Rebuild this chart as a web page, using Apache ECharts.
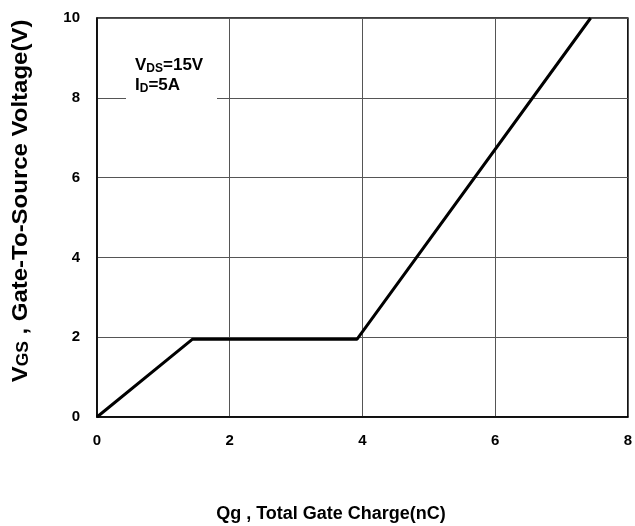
<!DOCTYPE html>
<html>
<head>
<meta charset="utf-8">
<script src="https://cdn.jsdelivr.net/npm/echarts@6/dist/echarts.min.js"></script>
<style>
  html, body { margin: 0; padding: 0; background: #fff; }
  #chart { width: 635px; height: 526px; }
</style>
</head>
<body>
<div id="chart"></div>
<script>
var qg = [0, 1.44, 3.92, 7.44];
var vgs = [0, 1.95, 1.95, 10];
var xTicks = [0, 2, 4, 6, 8];
var yTicks = [0, 2, 4, 6, 8, 10];

var points = qg.map(function (q, i) { return [q, vgs[i]]; });

var chart = echarts.init(document.getElementById('chart'));
var font = 'Liberation Sans, Arial, sans-serif';

var option = {
  backgroundColor: '#fff',
  animation: false,
  grid: {
    left: 97, right: 6, top: 18, bottom: 109,
    show: true, borderColor: '#000', borderWidth: 1.5
  },
  xAxis: {
    type: 'value', min: xTicks[0], max: xTicks[xTicks.length - 1], interval: 2,
    axisLine: { show: true, lineStyle: { color: '#000', width: 1.5 } },
    axisTick: { show: false },
    splitLine: { show: true, lineStyle: { color: '#555', width: 1 } },
    axisLabel: { color: '#000', fontWeight: 'bold', fontSize: 15, fontFamily: font, margin: 16 }
  },
  yAxis: {
    type: 'value', min: yTicks[0], max: yTicks[yTicks.length - 1], interval: 2,
    axisLine: { show: true, lineStyle: { color: '#000', width: 1.5 } },
    axisTick: { show: false },
    splitLine: { show: true, lineStyle: { color: '#555', width: 1 } },
    axisLabel: { color: '#000', fontWeight: 'bold', fontSize: 15, fontFamily: font, margin: 17 }
  },
  graphic: [
    {
      type: 'rect', left: 126, top: 55, z: 50,
      shape: { width: 91, height: 48 },
      style: { fill: '#fff' }
    },
    {
      type: 'text', left: 135, top: 56, z: 51,
      style: {
        text: '{b|V}{s|DS}{b|=15V}\n{b|I}{s|D}{b|=5A}',
        rich: {
          b: { fontSize: 17, fontWeight: 'bold', fontFamily: font, fill: '#000', lineHeight: 20 },
          s: { fontSize: 12, fontWeight: 'bold', fontFamily: font, fill: '#000', padding: [7, 0, 0, 0], lineHeight: 20 }
        }
      }
    },
    {
      type: 'text', x: 331, y: 514, z: 51,
      style: {
        text: 'Qg , Total Gate Charge(nC)',
        fontSize: 18, fontWeight: 'bold', fontFamily: font, fill: '#000',
        align: 'center', verticalAlign: 'middle'
      }
    },
    {
      type: 'text', x: 21, y: 201, rotation: Math.PI / 2, scaleX: 1.09, z: 51,
      style: {
        text: '{b|V}{s|GS}{b| , Gate-To-Source Voltage(V)}',
        align: 'center', verticalAlign: 'middle',
        rich: {
          b: { fontSize: 22, fontWeight: 'bold', fontFamily: font, fill: '#000' },
          s: { fontSize: 16, fontWeight: 'bold', fontFamily: font, fill: '#000', padding: [5, 0, 0, 0] }
        }
      }
    }
  ],
  series: [
    {
      type: 'line',
      data: points,
      symbol: 'none',
      lineStyle: { color: '#000', width: 3 },
      z: 10
    }
  ]
};
chart.setOption(option);
</script>
</body>
</html>
